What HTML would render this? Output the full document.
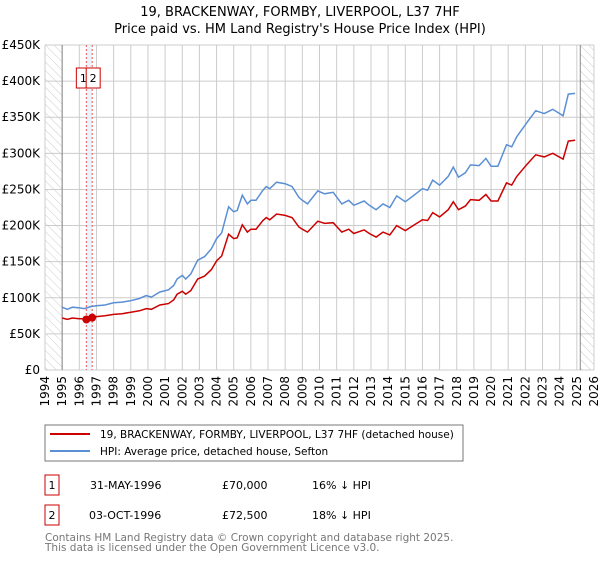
<!DOCTYPE html>
<html><head><meta charset="utf-8"><style>
body{margin:0;background:#fff;font-family:"DejaVu Sans","Liberation Sans",sans-serif;}
svg text{font-family:"DejaVu Sans","Liberation Sans",sans-serif;}
</style></head><body>
<svg id="chart" width="600" height="560" xmlns="http://www.w3.org/2000/svg">
<defs><pattern id="hatch" width="6" height="6" patternUnits="userSpaceOnUse" patternTransform="rotate(-45)"><line x1="0" y1="0" x2="0" y2="6" stroke="#ccc" stroke-width="1"/></pattern></defs>
<text x="300" y="16" text-anchor="middle" font-size="13">19, BRACKENWAY, FORMBY, LIVERPOOL, L37 7HF</text>
<text x="300" y="33" text-anchor="middle" font-size="13">Price paid vs. HM Land Registry's House Price Index (HPI)</text>
<g id="grid"></g><g id="marks"></g><g id="axes"></g>
<rect x="45" y="425" width="418" height="36" fill="#fff" stroke="#777"/>
<line x1="50" y1="434" x2="90" y2="434" stroke="#cc0000" stroke-width="2"/>
<text x="100" y="438" font-size="10.5">19, BRACKENWAY, FORMBY, LIVERPOOL, L37 7HF (detached house)</text>
<line x1="50" y1="451" x2="90" y2="451" stroke="#5b8fd4" stroke-width="2"/>
<text x="100" y="455" font-size="10.5">HPI: Average price, detached house, Sefton</text>
<g font-size="11">
<rect x="45" y="475" width="14" height="20" fill="none" stroke="#cc0000"/>
<text x="52" y="489" text-anchor="middle">1</text>
<text x="90" y="489">31-MAY-1996</text><text x="222" y="489">£70,000</text><text x="312" y="489">16% ↓ HPI</text>
<rect x="45" y="505" width="14" height="20" fill="none" stroke="#cc0000"/>
<text x="52" y="519" text-anchor="middle">2</text>
<text x="89" y="519">03-OCT-1996</text><text x="222" y="519">£72,500</text><text x="312" y="519">18% ↓ HPI</text>
</g>
<text x="45" y="541" font-size="10.5" fill="#777">Contains HM Land Registry data © Crown copyright and database right 2025.</text>
<text x="45" y="551" font-size="10.5" fill="#777">This data is licensed under the Open Government Licence v3.0.</text>
</svg>
<script>
const years=[1995.0,1995.3,1995.6,1996.0,1996.3,1996.7,1997.0,1997.5,1998.0,1998.5,1999.0,1999.5,1999.9,2000.2,2000.7,2001.2,2001.5,2001.7,2002.0,2002.2,2002.5,2002.9,2003.3,2003.7,2004.0,2004.3,2004.7,2005.0,2005.2,2005.5,2005.8,2006.0,2006.3,2006.7,2006.9,2007.1,2007.5,2008.0,2008.4,2008.8,2009.0,2009.3,2009.9,2010.3,2010.8,2011.3,2011.7,2012.0,2012.6,2012.9,2013.3,2013.7,2014.1,2014.5,2015.0,2015.4,2016.0,2016.3,2016.6,2017.0,2017.5,2017.8,2018.1,2018.5,2018.8,2019.3,2019.7,2020.0,2020.4,2020.9,2021.2,2021.5,2022.1,2022.6,2023.1,2023.6,2024.2,2024.5,2024.9];
const hpi=[87,84,87,86,85,88,89,90,93,94,96,99,103,101,108,111,117,126,131,126,133,152,157,168,182,190,226,219,221,242,230,235,235,249,254,251,260,258,254,239,235,230,248,244,246,230,235,228,234,228,222,230,225,241,233,240,251,249,263,256,268,281,267,273,284,283,293,282,282,312,309,323,343,359,355,361,352,382,383];
const prop=[72,70,72,71,71,73,74,75,77,78,80,82,85,84,90,92,97,105,109,105,110,126,130,139,151,158,188,182,183,201,191,195,195,207,211,208,216,214,211,198,195,191,206,203,204,191,195,189,194,189,184,191,187,200,193,199,208,207,218,212,222,233,222,227,236,235,243,234,234,259,256,268,285,298,295,300,292,317,318];
const saleYears=[1996.41,1996.75];
const salePrices=[70,72.5];
const saleLabels=["1","2"];
const yTicks=[0,50,100,150,200,250,300,350,400,450];
const yTickLabels=["£0","£50K","£100K","£150K","£200K","£250K","£300K","£350K","£400K","£450K"];
const xTicks=[1994,1995,1996,1997,1998,1999,2000,2001,2002,2003,2004,2005,2006,2007,2008,2009,2010,2011,2012,2013,2014,2015,2016,2017,2018,2019,2020,2021,2022,2023,2024,2025,2026];
const X0=45,X1=594,Y0=370,Y1=45;
const xs=y=>X0+(y-1994)/(2026-1994)*(X1-X0);
const ys=v=>Y0-v/450*(Y0-Y1);
const NS="http://www.w3.org/2000/svg";
function mk(p,t,a){const e=document.createElementNS(NS,t);for(const k in a)e.setAttribute(k,a[k]);p.appendChild(e);return e;}
const grid=document.getElementById('grid'),marks=document.getElementById('marks'),axes=document.getElementById('axes');
let r=mk(grid,'rect',{x:X0,y:Y1,width:xs(1995)-X0,height:Y0-Y1,fill:'url(#hatch)'});


r=mk(grid,'rect',{x:xs(2025.2),y:Y1,width:X1-xs(2025.2),height:Y0-Y1,fill:'url(#hatch)'});


yTicks.forEach((v,i)=>{
 const l=mk(grid,'line',{x1:X0,x2:X1,y1:ys(v),y2:ys(v),stroke:'#ccc'});
 
 
 const t=mk(axes,'text',{x:X0-5,y:ys(v)+4,'text-anchor':'end','font-size':12});
 t.textContent=yTickLabels[i];
 
 
});
xTicks.forEach(y=>{
 const l=mk(grid,'line',{x1:xs(y),x2:xs(y),y1:Y1,y2:Y0,stroke:'#ccc'});
 
 
 const t=mk(axes,'text',{x:0,y:0,'font-size':12,'text-anchor':'end',transform:`translate(${xs(y)+4},${Y0+6}) rotate(-90)`});
 t.textContent=y;
 
 
});
r=mk(grid,'line',{x1:xs(1995),x2:xs(1995),y1:Y1,y2:Y0,stroke:'#888'});


r=mk(grid,'line',{x1:xs(2025.2),x2:xs(2025.2),y1:Y1,y2:Y0,stroke:'#888'});


r=mk(grid,'rect',{x:xs(saleYears[0]),y:Y1,width:xs(saleYears[1])-xs(saleYears[0]),height:Y0-Y1,fill:'#e8f0fc',opacity:0.8});


saleYears.forEach((y,i)=>{
 const l=mk(grid,'line',{x1:xs(y),x2:xs(y),y1:Y1,y2:Y0,stroke:'#e55','stroke-dasharray':'2,2'});
 
 
});
const pts=a=>a.map((v,i)=>xs(years[i]).toFixed(1)+','+ys(v).toFixed(1)).join(' ');
let p=mk(marks,'polyline',{points:pts(hpi),fill:'none',stroke:'#5b8fd4','stroke-width':1.5});


p=mk(marks,'polyline',{points:pts(prop),fill:'none',stroke:'#cc0000','stroke-width':1.5});


saleYears.forEach((y,i)=>{
 const c=mk(marks,'circle',{cx:xs(y),cy:ys(salePrices[i]),r:4,fill:'#cc0000'});
 
 
});
saleYears.forEach((y,i)=>{
 const bx=xs(y)-10+i*4;
 const b=mk(marks,'rect',{x:bx,y:68,width:14,height:20,fill:'#fff',stroke:'#cc0000'});
 
 
 const t=mk(marks,'text',{x:bx+7,y:82,'text-anchor':'middle','font-size':11});
 t.textContent=saleLabels[i];
 
 
});
</script>
</body></html>
